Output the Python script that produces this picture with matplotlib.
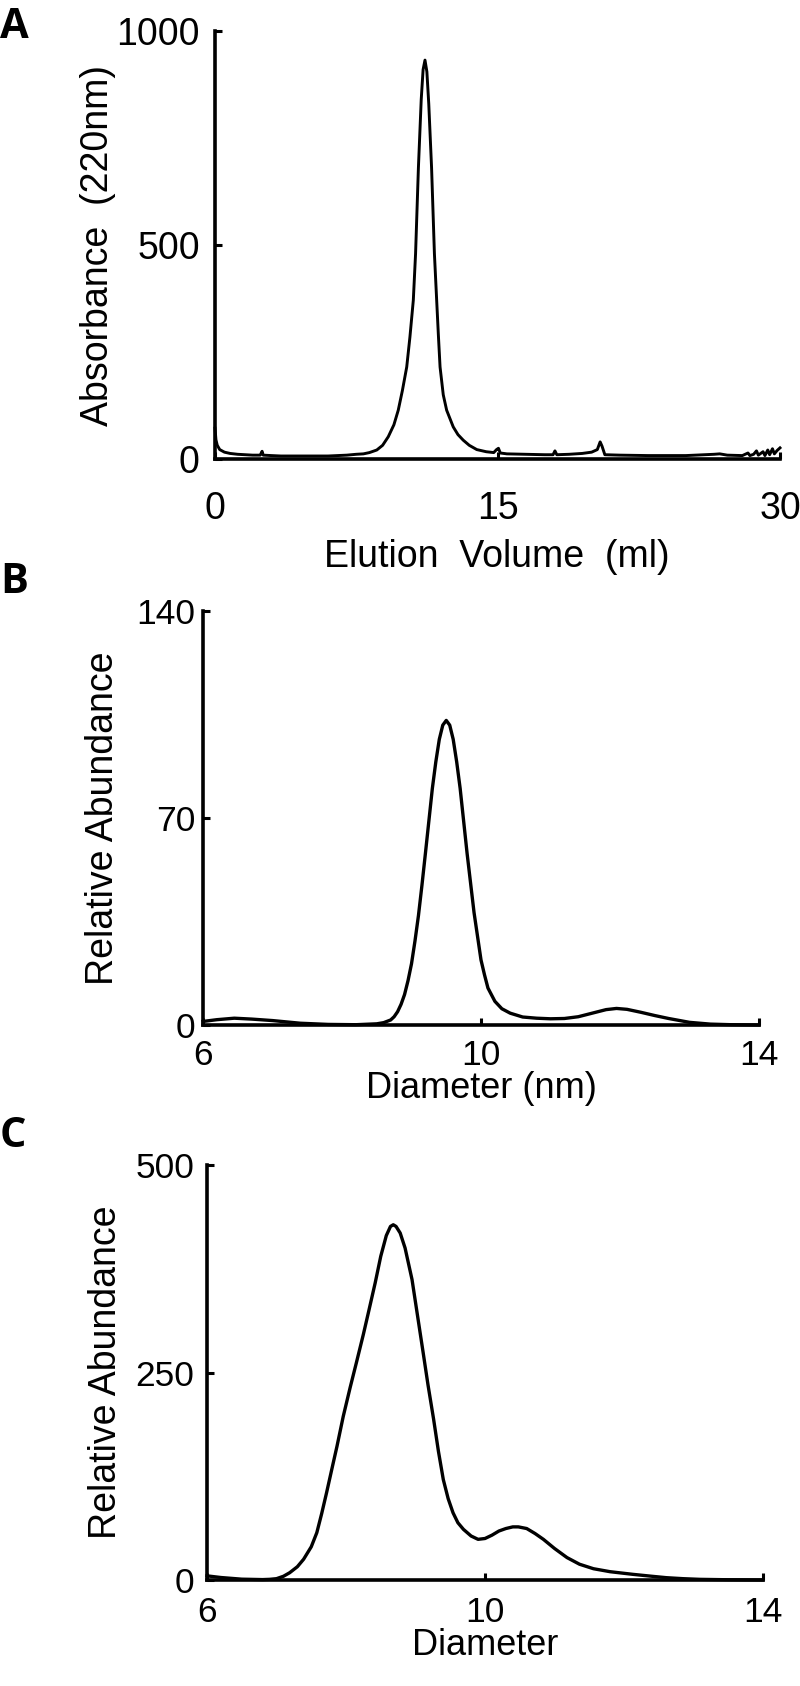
import matplotlib
matplotlib.use("Agg")
import matplotlib.pyplot as plt

plt.rcParams["font.family"] = ["Liberation Sans", "DejaVu Sans"]

# Panel A: size-exclusion chromatogram
elutionVolume = [0.0, 0.05, 0.12, 0.25, 0.5, 0.8, 1.2, 1.6, 2.0, 2.4, 2.5, 2.56, 3.0, 3.5, 4.0,
                 5.0, 6.0, 6.5, 7.0, 7.5, 7.88, 8.2, 8.59, 8.9, 9.2, 9.5, 9.73, 9.95, 10.18,
                 10.35, 10.53, 10.65, 10.8, 10.95, 11.05, 11.15, 11.25, 11.35, 11.5, 11.65,
                 11.77, 11.86, 11.95, 12.12, 12.3, 12.65, 12.9, 13.18, 13.5, 13.9, 14.4, 14.8,
                 14.95, 15.05, 15.15, 15.5, 16.5, 17.5, 17.95, 18.05, 18.15, 18.8, 19.5, 20.0,
                 20.3, 20.45, 20.55, 20.7, 21.5, 23.0, 25.0, 26.5, 26.8, 27.2, 28.0, 28.3,
                 28.4, 28.6, 28.75, 28.85, 29.1, 29.2, 29.35, 29.45, 29.6, 29.7, 29.85, 30.0]
absorbance = [72, 45, 32, 22, 16, 13, 11, 10, 9, 9, 18, 9, 8, 7, 7,
              7, 7, 8, 9, 11, 12, 15, 21, 32, 52, 80, 114, 160, 215,
              285, 371, 480, 680, 840, 910, 932, 905, 830, 680, 480,
              371, 290, 215, 150, 114, 75, 57, 44, 32, 22, 17, 15,
              22, 25, 14, 12, 11, 10, 10, 19, 10, 11, 13, 16,
              22, 40, 30, 10, 9, 8, 8, 11, 12, 9, 8, 14,
              8, 11, 19, 9, 17, 8, 21, 10, 24, 12, 20, 26]

# Panel B: size distribution (nm)
diameterB = [6.0, 6.2, 6.45, 6.7, 7.0, 7.4, 7.8, 8.2, 8.5, 8.6, 8.7, 8.75, 8.8, 8.85, 8.9,
             8.95, 9.0, 9.05, 9.1, 9.15, 9.2, 9.25, 9.3, 9.35, 9.4, 9.45, 9.5, 9.55, 9.6,
             9.65, 9.7, 9.75, 9.8, 9.85, 9.9, 9.95, 10.0, 10.05, 10.1, 10.2, 10.3, 10.42,
             10.6, 10.8, 11.0, 11.2, 11.4, 11.6, 11.8, 11.95, 12.1, 12.3, 12.5, 12.7,
             13.0, 13.3, 13.6, 14.0]
abundanceB = [1.2, 1.8, 2.3, 2.0, 1.5, 0.6, 0.2, 0.1, 0.4, 0.8, 1.7, 2.8, 4.5, 7, 10.3,
              15, 20.7, 28.4, 37, 47.2, 58, 69, 80, 89, 96.6, 101.4, 103, 101.4, 96.6,
              89, 80, 69, 58, 48, 38, 30, 22, 17, 12.5, 8, 5.5, 4,
              2.7, 2.3, 2.1, 2.2, 2.8, 4.0, 5.2, 5.6, 5.3, 4.3, 3.2, 2.2,
              0.9, 0.3, 0.1, 0.0]

# Panel C: size distribution
diameterC = [6.0, 6.2, 6.5, 6.8, 6.9, 7.0, 7.1, 7.19, 7.3, 7.39, 7.5, 7.58, 7.65, 7.72,
             7.8, 7.87, 7.96, 8.06, 8.15, 8.25, 8.33, 8.42, 8.5, 8.58, 8.64, 8.68, 8.72,
             8.78, 8.85, 8.95, 9.03, 9.11, 9.18, 9.26, 9.33, 9.4, 9.47, 9.54, 9.61, 9.69,
             9.8, 9.9, 10.0, 10.1, 10.2, 10.3, 10.4, 10.48, 10.6, 10.72, 10.84, 11.0,
             11.18, 11.36, 11.56, 11.8, 12.13, 12.4, 12.61, 12.85, 13.09, 13.5, 14.0]
abundanceC = [5, 3, 1, 0.5, 0.8, 1.6, 4.5, 8.8, 16, 25, 40, 57, 80, 105,
              135, 161, 197, 232, 262, 296, 325, 358, 390, 415, 426, 428, 426,
              418, 400, 362, 318, 274, 235, 194, 155, 121, 98, 81, 69, 61,
              53, 49, 50, 54, 59, 62, 64, 64, 62, 56, 49, 38,
              27, 19, 13.6, 10, 6.8, 4.5, 2.8, 1.6, 0.8, 0.3, 0.0]

W, H = 800, 1686
fig = plt.figure(figsize=(W / 100, H / 100), dpi=100)


def panel(rect, x, y, xlim, ylim, xticks, yticks, tsize, xpad, ypad, lw):
    l, r, b, t = rect
    ax = fig.add_axes([l / W, 1 - b / H, (r - l) / W, (b - t) / H])
    ax.plot(x, y, color="black", lw=lw, clip_on=False, solid_joinstyle="round")
    ax.set_xlim(*xlim)
    ax.set_ylim(*ylim)
    ax.set_xticks(xticks)
    ax.set_yticks(yticks)
    for s in ["top", "right"]:
        ax.spines[s].set_visible(False)
    for s in ["left", "bottom"]:
        ax.spines[s].set_linewidth(2.6)
    ax.tick_params(direction="in", length=5, width=2.2, labelsize=tsize)
    ax.tick_params(axis="x", pad=xpad)
    ax.tick_params(axis="y", pad=ypad)
    return ax


panel((215, 780, 459, 31), elutionVolume, absorbance, (0, 30), (0, 1000),
      [0, 15, 30], [0, 500, 1000], 27, 23, 11, 2.1)
panel((203, 759, 1025, 611), diameterB, abundanceB, (6, 14), (0, 140),
      [6, 10, 14], [0, 70, 140], 25.5, 10, 5.5, 2.4)
panel((207, 763, 1580, 1165), diameterC, abundanceC, (6, 14), (0, 500),
      [6, 10, 14], [0, 250, 500], 25.5, 11.5, 9, 2.4)

# axis titles
fig.text(497 / W, 1 - 567 / H, "Elution  Volume  (ml)", ha="center", va="baseline", fontsize=27)
fig.text(98 / W, 1 - 245 / H, "Absorbance  (220nm)", rotation=90, ha="center", va="center", fontsize=27)
fig.text(481 / W, 1 - 1098 / H, "Diameter (nm)", ha="center", va="baseline", fontsize=26)
fig.text(103 / W, 1 - 818 / H, "Relative Abundance", rotation=90, ha="center", va="center", fontsize=27)
fig.text(485 / W, 1 - 1655 / H, "Diameter", ha="center", va="baseline", fontsize=26)
fig.text(106 / W, 1 - 1372 / H, "Relative Abundance", rotation=90, ha="center", va="center", fontsize=27)

# panel letters
for letter, base in [("A", 38), ("B", 593), ("C", 1147)]:
    fig.text(0.0, 1 - base / H, letter, ha="left", va="baseline", fontsize=30,
             fontweight="bold", family=["Open Sans", "DejaVu Sans"])

fig.savefig("out.png", dpi=100)
